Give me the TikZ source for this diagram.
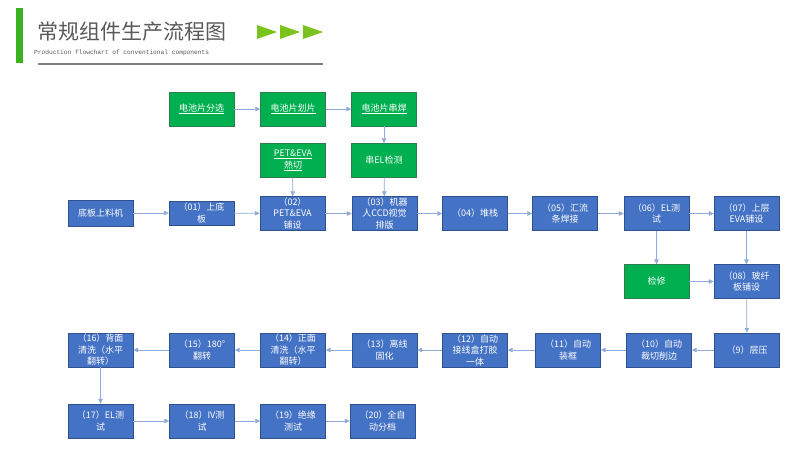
\documentclass[tikz,border=0pt]{standalone}
\usepackage{fontspec}
\usetikzlibrary{positioning,arrows.meta}
\newfontfamily\cjk{Noto Sans CJK SC}
\newfontfamily\monofont{Liberation Mono}
\definecolor{boxblue}{HTML}{4472C4}
\definecolor{boxblueline}{HTML}{2F528F}
\definecolor{boxgreen}{HTML}{00B050}
\definecolor{boxgreenline}{HTML}{2E7D4F}
\definecolor{flowblue}{HTML}{8FAADC}
\definecolor{bargreen}{HTML}{3AB31E}
\definecolor{trigreen}{HTML}{7AC21C}
\definecolor{titlegray}{HTML}{595959}
\tikzset{
  blk/.style={draw=boxblueline, fill=boxblue, text=white, minimum width=65pt,
    minimum height=34pt, inner sep=1pt, align=center,
    font=\cjk\fontsize{9}{11.5}\selectfont},
  gblk/.style={blk, draw=boxgreenline, fill=boxgreen},
  flow/.style={draw=flowblue, line width=0.7pt, -{Triangle[length=5pt,width=4.5pt]}}
}

\begin{document}
\begin{tikzpicture}[x=1pt,y=-1pt]
    \useasboundingbox (0,0) rectangle (800,456);

    % Title
    \fill[bargreen] (16,8) rectangle (23,63);
    \node[anchor=west, inner sep=0, text=titlegray, font=\cjk\fontsize{21}{21}\selectfont] (title) at (37,32) {常规组件生产流程图};
    \foreach \x in {257,280,303} {
        \fill[trigreen] (\x,25) -- (\x+20,32) -- (\x,39) -- cycle;
    }
    \node[anchor=west, inner sep=0, text=titlegray, font=\monofont\fontsize{6.2}{7}\selectfont] (subtitle) at (34,53) {Production flowchart of conventional components};
    \draw[gray, line width=1.3pt] (38,64) -- (323,64);

    % Cell preparation (green)
    \foreach \n/\x/\y/\t in {s1/201.5/109/{\underline{电池片分选}}, s2/293/109/{\underline{电池片划片}},
        s3/384/109/{\underline{电池片串焊}}, c1/293/160.5/{\underline{PET\&EVA}\\\underline{熱切}},
        e1/384/160.5/{串EL检测}} {
        \node[gblk] (\n) at (\x,\y) {\t};
    }

    % Main row
    \node[blk, minimum height=26pt] (m0) at (100.5,213) {底板上料机};
    \node[blk, minimum height=24pt] (m1) at (201.5,213) {（01）上底\\板};
    \foreach \n/\x/\t in {m2/292.5/{（02）\\PET\&EVA\\铺设}, m3/384.5/{（03）机器\\人CCD视觉\\排版},
        m4/475/{（04）堆栈}, m5/565/{（05）汇流\\条焊接}, m6/656.5/{（06）EL测\\试},
        m7/746.5/{（07）上层\\EVA铺设}} {
        \node[blk] (\n) at (\x,213.5) {\t};
    }

    % Repair
    \node[gblk] (rep) at (656.5,281.5) {检修};
    \node[blk] (m8) at (746.5,281.5) {（08）玻纤\\板铺设};

    % Return row
    \foreach \n/\x/\t in {r9/747/{（9）层压}, r10/659/{（10）自动\\裁切削边}, r11/568/{（11）自动\\装框},
        r12/475/{（12）自动\\接线盒打胶\\一体}, r13/384.5/{（13）离线\\固化},
        r14/293/{（14）正面\\清洗（水平\\翻转）}, r15/202/{（15）180°\\翻转},
        r16/100.5/{（16）背面\\清洗（水平\\翻转）}} {
        \node[blk] (\n) at (\x,350) {\t};
    }

    % Test row
    \foreach \n/\x/\t in {r17/100.5/{（17）EL测\\试}, r18/202/{（18）IV测\\试},
        r19/293/{（19）绝缘\\测试}, r20/382.5/{（20）全自\\动分档}} {
        \node[blk] (\n) at (\x,421) {\t};
    }

    % Connectors
    \foreach \a/\b in {s1/s2, s2/s3, s3/e1, e1/m3, c1/m2, m0/m1, m1/m2, m2/m3, m3/m4, m4/m5,
        m5/m6, m6/m7, m6/rep, rep/m8, m7/m8, m8/r9, r9/r10, r10/r11, r11/r12, r12/r13,
        r13/r14, r14/r15, r15/r16, r16/r17, r17/r18, r18/r19, r19/r20} {
        \draw[flow] (\a) -- (\b);
    }
\end{tikzpicture}
\end{document}
